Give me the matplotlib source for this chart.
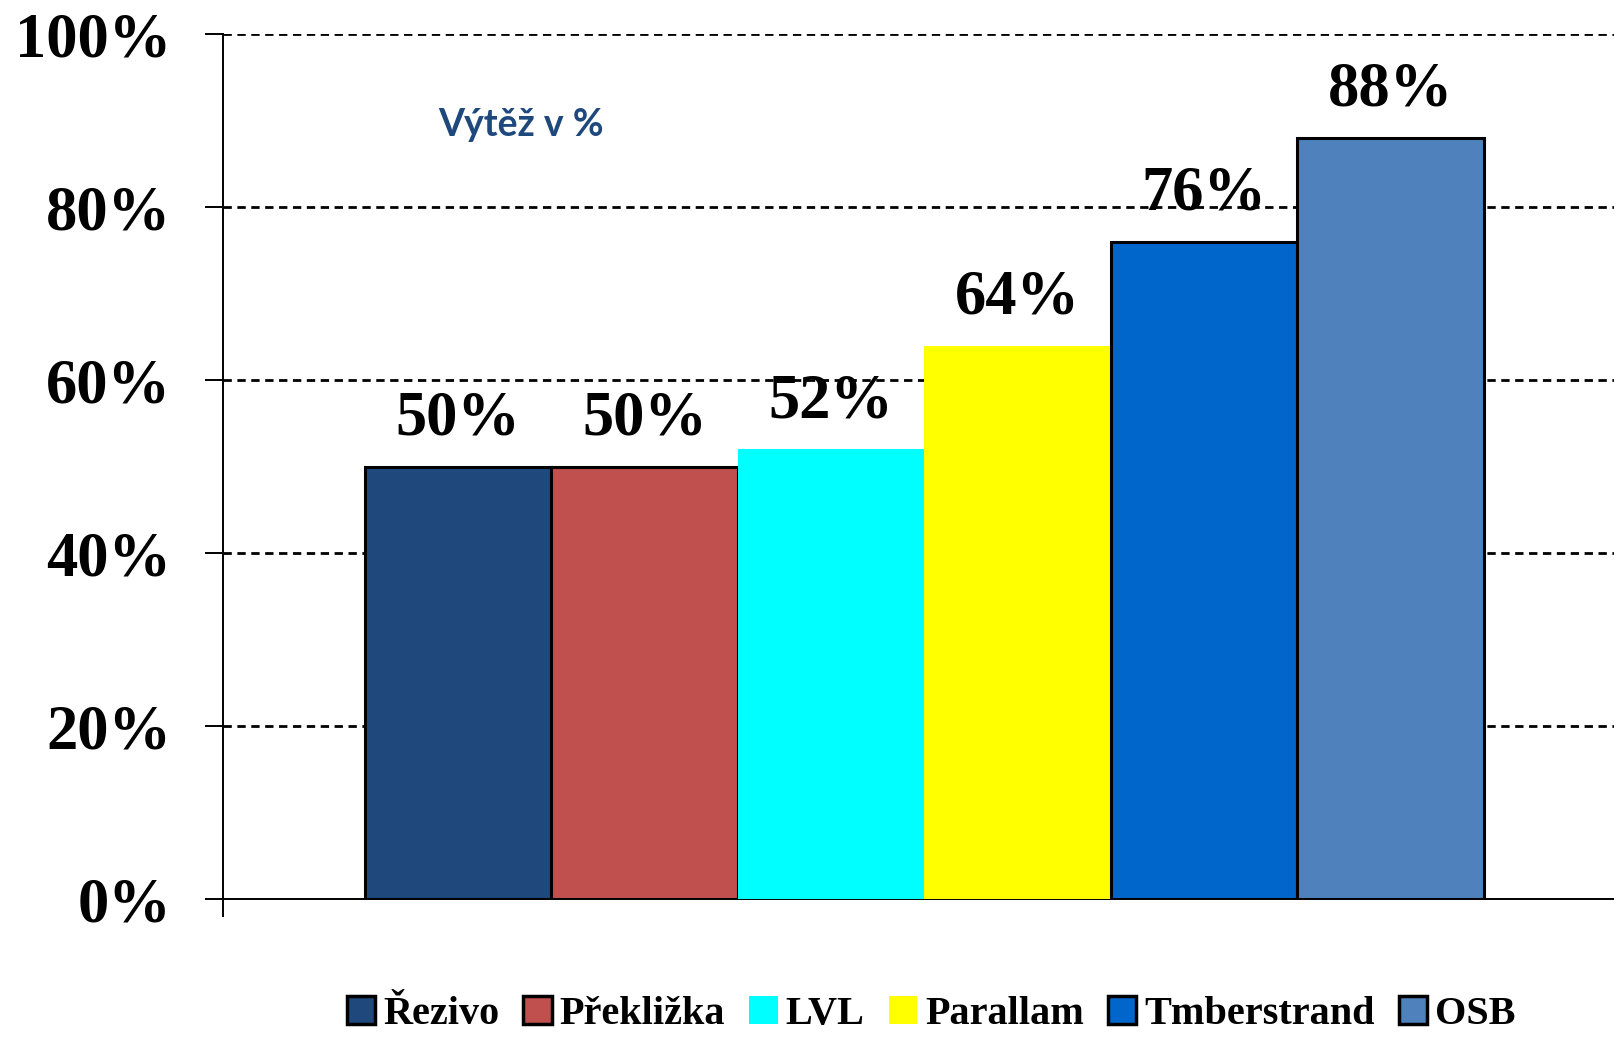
import numpy as np
import matplotlib.pyplot as plt

products = ['Řezivo', 'Překližka', 'LVL', 'Parallam', 'Tmberstrand', 'OSB']
yields = [50, 50, 52, 64, 76, 88]
colors = ['#1F497D', '#C0504D', '#00FFFF', '#FFFF00', '#0066CC', '#4F81BD']
edges = ['black', 'black', 'none', 'none', 'black', 'black']
y_ticks = [0, 20, 40, 60, 80, 100]

fig = plt.figure(figsize=(16.14, 10.37), dpi=100)
ax = fig.add_axes([0.138, 0.133, 0.862, 0.834])

serif = 'Liberation Serif'
for i, (p, v) in enumerate(zip(products, yields)):
    ax.bar(i, v, width=1.0, color=colors[i], edgecolor=edges[i], linewidth=2.2,
           label=p, zorder=3)
    ax.annotate('%d%%' % v, (i, v), xytext=(0, 13), textcoords='offset points',
                ha='center', va='bottom', fontsize=45, fontweight='bold',
                family=serif, zorder=4)

ax.set_xlim(-1.263, 6.2)
ax.set_ylim(0, 100)
ax.set_yticks(y_ticks)
ax.set_yticklabels(['%d%%' % t for t in y_ticks], fontsize=45, fontweight='bold', family=serif)
ax.tick_params(axis='y', length=13, width=1.4, pad=24, direction='out')
ax.set_xticks([-1.263])
ax.set_xticklabels([''])
ax.tick_params(axis='x', length=13, width=1.4, direction='out')

# dashed gridlines behind the bars
for t in y_ticks[1:]:
    ax.axhline(t, color='black', linestyle=(0, (3, 2)), linewidth=2.0, zorder=1)

ax.spines['top'].set_visible(False)
ax.spines['right'].set_visible(False)
ax.spines['left'].set_linewidth(1.4)
ax.spines['bottom'].set_linewidth(1.4)

fig.text(0.323, 0.879, 'Výtěž v %', fontsize=27, fontweight='bold', family='Lato',
         color='#1F497D', ha='center', va='center')

leg = fig.legend(loc='center', bbox_to_anchor=(0.577, 0.022), ncol=6, frameon=False,
                 prop={'family': serif, 'weight': 'bold', 'size': 29},
                 handlelength=0.7, handleheight=0.7, handletextpad=0.2, columnspacing=0.6)
for h in leg.legend_handles:
    if h.get_edgecolor()[3] > 0:
        h.set_linewidth(2.5)

fig.savefig('out.png', dpi=100)
